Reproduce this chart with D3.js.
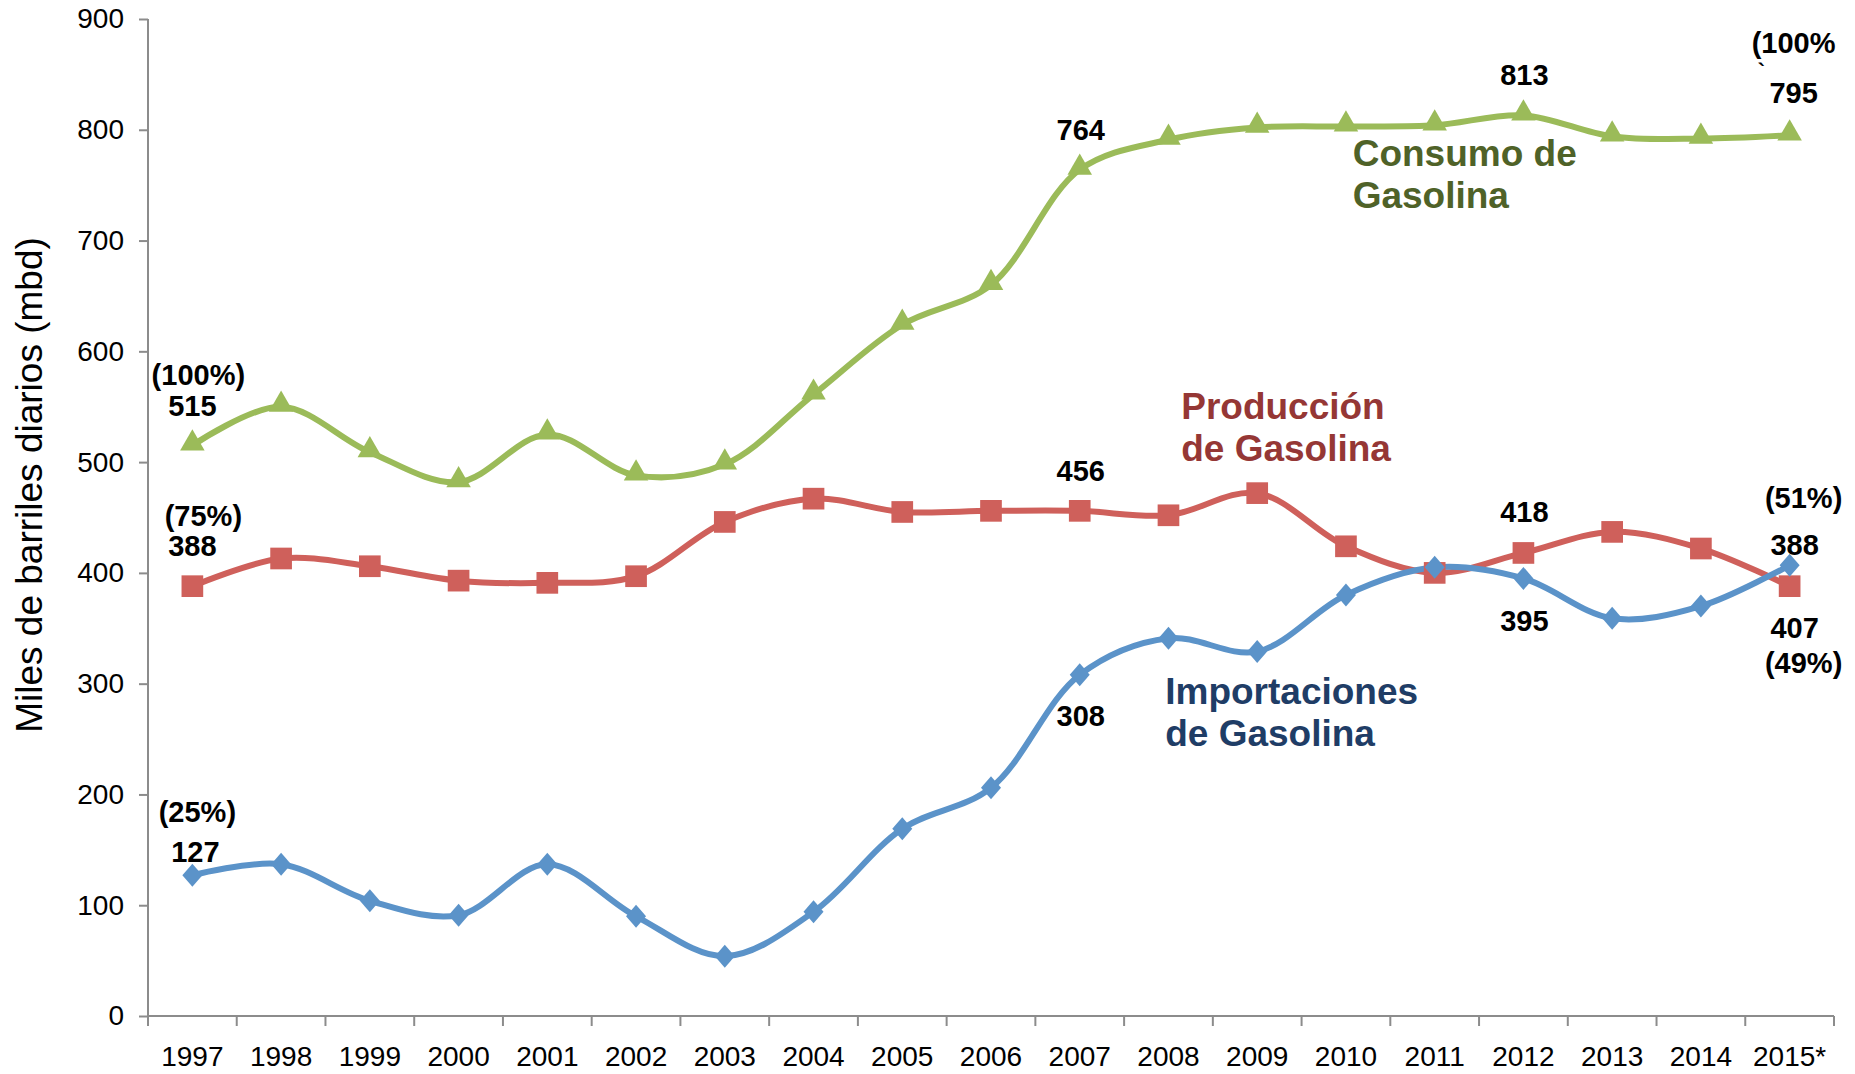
<!DOCTYPE html>
<html>
<head>
<meta charset="utf-8">
<script src="https://cdn.jsdelivr.net/npm/d3@7"></script>
<style>
  body { margin: 0; background: #fff; }
  svg { display: block; font-family: Arial, "Liberation Sans", sans-serif; }
</style>
</head>
<body>
<svg id="chart" width="1855" height="1074"></svg>
<script>
// years on the x axis
var years = ["1997","1998","1999","2000","2001","2002","2003","2004","2005","2006",
             "2007","2008","2009","2010","2011","2012","2013","2014","2015*"];

// miles de barriles diarios
var consumo = [515, 550, 509, 482, 525, 488, 498, 561, 624, 660,
               764, 791, 802, 803, 804, 813, 794, 792, 795];
var produccion = [388, 413, 406, 393, 391, 397, 446, 467, 455, 456,
                  456, 452, 472, 424, 400, 418, 437, 422, 388];
var importaciones = [127, 137, 104, 91, 137, 90, 54, 94, 169, 206,
                     308, 341, 329, 380, 405, 395, 359, 370, 407];

var yTicks = [0, 100, 200, 300, 400, 500, 600, 700, 800, 900];

// point labels: year, value they sit by, text
var pointLabels = [
    {year: "1997", value: 515, text: "(100%)", dx: 6, dy: -60},
    {year: "1997", value: 515, text: "515", dx: 0, dy: -29},
    {year: "1997", value: 388, text: "(75%)", dx: 11, dy: -60},
    {year: "1997", value: 388, text: "388", dx: 0, dy: -30},
    {year: "1997", value: 127, text: "(25%)", dx: 5, dy: -53},
    {year: "1997", value: 127, text: "127", dx: 3, dy: -13},
    {year: "2007", value: 764, text: "764", dx: 1, dy: -30},
    {year: "2007", value: 456, text: "456", dx: 1, dy: -30},
    {year: "2007", value: 308, text: "308", dx: 1, dy: 51},
    {year: "2012", value: 813, text: "813", dx: 1, dy: -30},
    {year: "2012", value: 418, text: "418", dx: 1, dy: -31},
    {year: "2012", value: 395, text: "395", dx: 1, dy: 53},
    {year: "2015*", value: 795, text: "795", dx: 4, dy: -32},
    {year: "2015*", value: 388, text: "(51%)", dx: 14, dy: -78},
    {year: "2015*", value: 388, text: "388", dx: 5, dy: -31},
    {year: "2015*", value: 407, text: "407", dx: 5, dy: 73},
    {year: "2015*", value: 407, text: "(49%)", dx: 14, dy: 108}
];

var svg = d3.select("#chart");

var x = d3.scaleBand().domain(years).range([148, 1834]);
var y = d3.scaleLinear().domain([0, 900]).range([1016, 19]);
var cx = function(yr) { return x(yr) + x.bandwidth() / 2; };

// axes
var yAxis = svg.append("g")
    .attr("transform", "translate(148,0)")
    .call(d3.axisLeft(y).tickValues(yTicks).tickSize(9).tickPadding(15));
var xAxis = svg.append("g")
    .attr("transform", "translate(0,1016)")
    .call(d3.axisBottom(x).tickSize(0).tickPadding(30));

[yAxis, xAxis].forEach(function(a) {
    a.selectAll("path, line").attr("stroke", "#8c8c8c").attr("stroke-width", 2);
    a.selectAll("text").attr("fill", "#000").style("font-size", "28px")
        .style("font-family", "Arial, 'Liberation Sans', sans-serif");
});
yAxis.select(".domain").attr("d", "M0,19V1016");
xAxis.select(".domain").attr("d", "M148,0H1834");

// category boundary ticks on x
xAxis.selectAll(".bound")
    .data(years.concat(["end"]))
    .enter().append("line")
    .attr("x1", function(d, i) { return i < years.length ? x(d) : x.range()[1]; })
    .attr("x2", function(d, i) { return i < years.length ? x(d) : x.range()[1]; })
    .attr("y1", 0).attr("y2", 10)
    .attr("stroke", "#8c8c8c").attr("stroke-width", 2);

// y axis title
svg.append("text")
    .attr("transform", "translate(42,485) rotate(-90)")
    .attr("text-anchor", "middle")
    .style("font-size", "37px")
    .text("Miles de barriles diarios (mbd)");

var line = d3.line()
    .x(function(d, i) { return cx(years[i]); })
    .y(function(d) { return y(d); })
    .curve(d3.curveCatmullRom.alpha(0.5));

// wide diamond like the Excel marker
var diamond = "M0,-11.5L10,0L0,11.5L-10,0Z";

var series = [
    {values: consumo, color: "#9bbb59", marker: d3.symbol().type(d3.symbolTriangle).size(260)(), off: -2},
    {values: produccion, color: "#cf605b", marker: d3.symbol().type(d3.symbolSquare).size(470)(), off: 0},
    {values: importaciones, color: "#5b93c9", marker: diamond, off: 0}
];

series.forEach(function(s) {
    svg.append("path")
        .datum(s.values)
        .attr("d", line)
        .attr("fill", "none")
        .attr("stroke", s.color)
        .attr("stroke-width", 6);
});

series.forEach(function(s) {
    svg.selectAll(null)
        .data(s.values)
        .enter().append("path")
        .attr("d", s.marker)
        .attr("transform", function(d, i) {
            return "translate(" + cx(years[i]) + "," + (y(d) + s.off) + ")";
        })
        .attr("fill", s.color);
});

// value labels
svg.selectAll(".plabel")
    .data(pointLabels)
    .enter().append("text")
    .attr("x", function(d) { return cx(d.year) + d.dx; })
    .attr("y", function(d) { return y(d.value) + d.dy; })
    .attr("text-anchor", "middle")
    .style("font-size", "29px")
    .style("font-weight", "bold")
    .text(function(d) { return d.text; });

// the odd "(100%" / "`" at 2015
svg.append("text")
    .attr("x", cx("2015*") - 38).attr("y", y(795) - 82)
    .style("font-size", "29px").style("font-weight", "bold")
    .text("(100%");
svg.append("text")
    .attr("x", cx("2015*") - 32).attr("y", y(795) - 56)
    .style("font-size", "22px").style("font-weight", "bold")
    .text("`");

// series names
var names = [
    {lines: ["Consumo de", "Gasolina"], color: "#4f6228", year: "2011", value: 767, dx: -82},
    {lines: ["Producción", "de Gasolina"], color: "#953735", year: "2009", value: 539, dx: -76},
    {lines: ["Importaciones", "de Gasolina"], color: "#1f3d66", year: "2009", value: 282, dx: -92}
];
names.forEach(function(n) {
    var t = svg.append("text")
        .attr("x", cx(n.year) + n.dx)
        .attr("y", y(n.value))
        .attr("fill", n.color)
        .style("font-size", "37px")
        .style("font-weight", "bold");
    n.lines.forEach(function(l, i) {
        t.append("tspan")
            .attr("x", cx(n.year) + n.dx)
            .attr("dy", i === 0 ? 0 : 42)
            .text(l);
    });
});
</script>
</body>
</html>
